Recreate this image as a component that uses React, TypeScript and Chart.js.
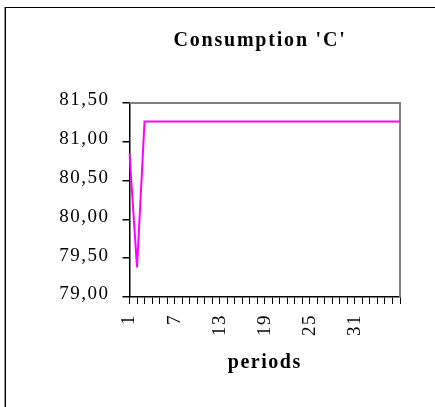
import React, { useEffect, useRef } from 'react';
import { Chart, registerables } from 'chart.js';

Chart.register(...registerables);

const chartTitle = "Consumption 'C'";
const xAxisTitle = 'periods';

const periods: string[] = [
  '1', '2', '3', '4', '5', '6', '7', '8', '9', '10',
  '11', '12', '13', '14', '15', '16', '17', '18', '19', '20',
  '21', '22', '23', '24', '25', '26', '27', '28', '29', '30',
  '31', '32', '33', '34', '35', '36', '37',
];

const consumption: number[] = [
  80.85, 79.38, 81.26, 81.26, 81.26, 81.26, 81.26, 81.26, 81.26, 81.26,
  81.26, 81.26, 81.26, 81.26, 81.26, 81.26, 81.26, 81.26, 81.26, 81.26,
  81.26, 81.26, 81.26, 81.26, 81.26, 81.26, 81.26, 81.26, 81.26, 81.26,
  81.26, 81.26, 81.26, 81.26, 81.26, 81.26, 81.26,
];

const shownPeriodLabels: string[] = ['1', '7', '13', '19', '25', '31'];

const yMin = 79;
const yMax = 81.5;
const yStep = 0.5;

const FONT_FAMILY = '"Liberation Serif", "Times New Roman", serif';
const SPACING = '1.5px';
const TITLE_SPACING = '1.8px';

const spacingPlugin = {
  id: 'letterSpacing',
  beforeUpdate(chart: any) {
    (chart.ctx as any).letterSpacing = SPACING;
  },
  beforeLayout(chart: any) {
    (chart.ctx as any).letterSpacing = SPACING;
  },
  beforeDraw(chart: any) {
    (chart.ctx as any).letterSpacing = SPACING;
  },
};

const framePlugin = {
  id: 'plotFrame',
  beforeDatasetsDraw(chart: any) {
    const { ctx, chartArea } = chart;
    ctx.save();
    ctx.strokeStyle = '#808080';
    ctx.lineWidth = 2;
    ctx.beginPath();
    ctx.moveTo(chartArea.left, chartArea.top);
    ctx.lineTo(chartArea.right, chartArea.top);
    ctx.lineTo(chartArea.right, chartArea.bottom);
    ctx.stroke();
    ctx.restore();
  },
  afterDraw(chart: any) {
    const { ctx } = chart;
    ctx.save();
    (ctx as any).letterSpacing = TITLE_SPACING;
    ctx.font = `bold 20px ${FONT_FAMILY}`;
    ctx.fillStyle = '#000';
    ctx.textAlign = 'center';
    ctx.textBaseline = 'alphabetic';
    ctx.fillText(chartTitle, 260, 46);
    ctx.restore();
  },
};

export default function App() {
  const canvasRef = useRef<HTMLCanvasElement | null>(null);

  useEffect(() => {
    if (!canvasRef.current) return;
    const chart = new Chart(canvasRef.current, {
      type: 'line',
      data: {
        labels: periods,
        datasets: [
          {
            data: consumption,
            borderColor: '#FF00FF',
            backgroundColor: '#FF00FF',
            borderWidth: 2,
            pointRadius: 0,
            tension: 0,
            fill: false,
          },
        ],
      },
      options: {
        animation: false,
        responsive: false,
        maintainAspectRatio: false,
        layout: { padding: { top: 103, right: 35, bottom: 0, left: 0 } },
        plugins: {
          legend: { display: false },
          title: { display: false },
          tooltip: { enabled: false },
        },
        scales: {
          x: {
            type: 'category',
            offset: false,
            afterFit: (scale: any) => {
              scale.height = 110;
            },
            grid: {
              display: true,
              drawOnChartArea: false,
              drawTicks: true,
              tickLength: 7,
              color: '#000',
              lineWidth: 1,
            },
            border: { display: true, color: '#000', width: 1.5 },
            ticks: {
              autoSkip: false,
              maxRotation: 90,
              minRotation: 90,
              padding: 10,
              color: '#000',
              font: { family: FONT_FAMILY, size: 19 },
              callback: (_v: any, i: number) =>
                shownPeriodLabels.includes(periods[i]) ? periods[i] : '',
            },
            title: {
              display: true,
              text: xAxisTitle,
              color: '#000',
              font: { family: FONT_FAMILY, size: 20, weight: 'bold' },
              padding: { top: 0, bottom: 32 },
            },
          },
          y: {
            min: yMin,
            max: yMax,
            afterFit: (scale: any) => {
              scale.width = 129.5;
            },
            grid: {
              display: true,
              drawOnChartArea: false,
              drawTicks: true,
              tickLength: 7,
              color: '#000',
              lineWidth: 1.5,
            },
            border: { display: true, color: '#000', width: 1.5 },
            ticks: {
              stepSize: yStep,
              padding: 13,
              labelOffset: -2.5,
              color: '#000',
              font: { family: FONT_FAMILY, size: 19 },
              callback: (v: any) => Number(v).toFixed(2).replace('.', ','),
            },
          },
        },
      },
      plugins: [spacingPlugin, framePlugin],
    });
    return () => chart.destroy();
  }, []);

  return (
    <div
      style={{
        position: 'fixed',
        left: 0,
        top: 0,
        width: 435,
        height: 407,
        overflow: 'hidden',
        background: '#fff',
      }}
    >
      <div
        style={{
          position: 'absolute',
          left: 5,
          top: 7,
          width: 460,
          height: 430,
          borderTop: '1px solid #000',
          borderLeft: '1px solid #000',
          boxShadow: '-1px 0 0 #999',
        }}
      />
      <canvas
        ref={canvasRef}
        width={435}
        height={407}
        style={{ position: 'absolute', left: 0, top: 0, width: 435, height: 407 }}
      />
    </div>
  );
}
